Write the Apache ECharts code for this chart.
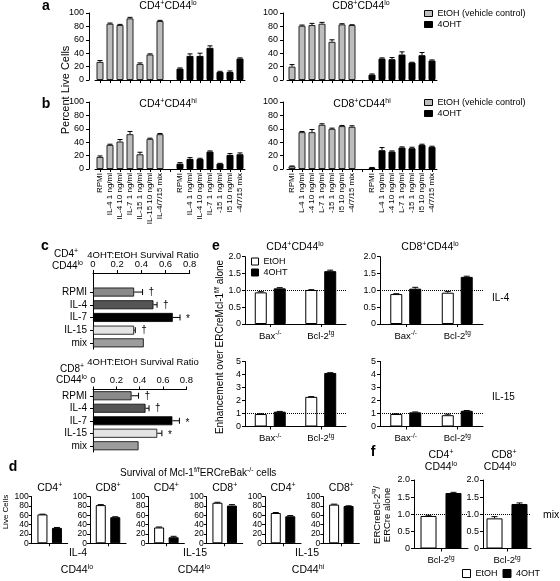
<!DOCTYPE html>
<html><head><meta charset="utf-8">
<script src="https://cdn.jsdelivr.net/npm/echarts@6/dist/echarts.min.js"></script>
<style>html,body{margin:0;padding:0;background:#fff}#c{width:560px;height:581px}</style>
</head><body><div id="c"></div><script>
const FONT = '"Liberation Sans", Arial, sans-serif';

// ---------------- data ----------------
const abLeftCats = ['RPMI','IL-4 1 ng/ml','IL-4 10 ng/ml','IL-7 1 ng/ml','IL-15 1 ng/ml','IL-15 10 ng/ml','IL-4/7/15 mix','',
  'RPMI','IL-4 1 ng/ml','IL-4 10 ng/ml','IL-7 1 ng/ml','-15 1 ng/ml','l5 10 ng/ml','-4/7/15 mix'];
const abRightCats = ['RPMI','L-4 1 ng/ml','-4 10 ng/ml','L-7 1 ng/ml','-15 1 ng/ml','l5 10 ng/ml','-4/7/15 mix','',
  'RPMI','L-4 1 ng/ml','-4 10 ng/ml','L-7 1 ng/ml','-15 1 ng/ml','I5 10 ng/ml','-4/7/15 mix'];
const aLeftEtOH = [27,84,82,92,24,38,88];
const aLeftEtOHErr = [2,1,1,1.5,1.5,1,1];
const aLeft4OHT = [17,36,36,48,12,12,32];
const aLeft4OHTErr = [1,3,4,3,1,1.5,1];
const aRightEtOH = [20,81,82,84,57,83,82];
const aRightEtOHErr = [3,1,2.5,2,3,1,0.5];
const aRight4OHT = [8,32,31,38,26,37,29];
const aRight4OHTErr = [1,1,2.5,4,0.5,4,1];
const bLeftEtOH = [18,36,41,52,22,45,52];
const bLeftEtOHErr = [1.5,1,3,4,3,1,1];
const bLeft4OHT = [8,15,15,26,8,21,22];
const bLeft4OHTErr = [1.5,2,1,1,0.5,2,2];
const bRightEtOH = [4,55,55,66,60,64,63];
const bRightEtOHErr = [0.5,1,4,1.5,1,1,1.5];
const bRight4OHT = [2,28,26,32,31,36,33];
const bRight4OHTErr = [0.3,4,1,1,1.5,1,1];

const cCategories = ['RPMI','IL-4','IL-7','IL-15','mix'];
const cCD4Ratio = [0.34,0.50,0.66,0.34,0.42];
const cCD4Err = [0.07,0.03,0.06,0.01,0];
const cCD4Marks = ['†','†','*','†',''];
const cCD8Ratio = [0.33,0.45,0.68,0.55,0.39];
const cCD8Err = [0.06,0.03,0.06,0.04,0];
const cCD8Marks = ['†','†','*','*',''];

const dTitles = ['CD4','CD8','CD4','CD8','CD4','CD8'];
const dEtOH = [62,82,34,87,65,83];
const dEtOHErr = [0.5,1,1,1,1,1];
const d4OHT = [33,56,13,81,58,80];
const d4OHTErr = [1,1,2,2,1.5,0.5];
const dCytokines = ['IL-4','IL-15','IL-15'];
const dSubsets = ['lo','lo','hi'];

const eCategories = ['Bax','Bcl-2'];
const eCategorySup = ['-/-','tg'];
const eIL4CD4EtOH = [0.94,1.01], eIL4CD4EtOHErr = [0.02,0.01];
const eIL4CD44OHT = [1.06,1.57], eIL4CD44OHTErr = [0.02,0.03];
const eIL4CD8EtOH = [0.89,0.93], eIL4CD8EtOHErr = [0.01,0.04];
const eIL4CD84OHT = [1.05,1.40], eIL4CD84OHTErr = [0.04,0.02];
const eIL15CD4EtOH = [0.96,2.28], eIL15CD4EtOHErr = [0.02,0.02];
const eIL15CD44OHT = [1.14,4.12], eIL15CD44OHTErr = [0.02,0.02];
const eIL15CD8EtOH = [0.96,0.87], eIL15CD8EtOHErr = [0.02,0.08];
const eIL15CD84OHT = [1.09,1.21], eIL15CD84OHTErr = [0.03,0.02];

const fCategories = ['Bcl-2'];
const fCategorySup = ['tg'];
const fCD4EtOH = [0.95], fCD4EtOHErr = [0.02];
const fCD44OHT = [1.62], fCD44OHTErr = [0.02];
const fCD8EtOH = [0.88], fCD8EtOHErr = [0.05];
const fCD84OHT = [1.30], fCD84OHTErr = [0.03];

// ---------------- styles / builders ----------------
const GREY = {color:'#bdbdbd', borderColor:'#222', borderWidth:1};
const BLACK = {color:'#000', borderColor:'#000', borderWidth:1};
const WHITE = {color:'#fff', borderColor:'#000', borderWidth:1};
const cColors = ['#8a8a8a','#555555','#000000','#e4e4e4','#9c9c9c'];

const grids = [], xAxes = [], yAxes = [], series = [], texts = [];
const lineBlack = {show:true, lineStyle:{color:'#000', width:1}};

function richFor(fs){
  return {
    m:{fontSize:fs, fontFamily:FONT, color:'#000', fill:'#000', lineHeight:fs+3},
    s:{fontSize:Math.max(6, Math.round(fs*0.68)), fontFamily:FONT, color:'#000', fill:'#000', verticalAlign:'top'}
  };
}
function sup(base, s){ return '{m|' + base + '}' + (s ? '{s|' + s + '}' : ''); }

function addVChart(cfg){
  const gi = grids.length;
  grids.push({left:cfg.left, top:cfg.top, width:cfg.width, height:cfg.height, outerBoundsMode:'none', containLabel:false});
  xAxes.push({gridIndex:gi, type:'category', data:cfg.cats, axisLine:lineBlack,
    axisTick:{show:true, alignWithLabel:true, interval:0, length:3, lineStyle:{color:'#000'}},
    axisLabel:cfg.xLabel || {show:false}, splitLine:{show:false}});
  const yl = {show:true, fontSize:cfg.yFont || 9, color:'#000', fontFamily:FONT, margin:cfg.yMargin || 4};
  if (cfg.yFmt) yl.formatter = cfg.yFmt;
  yAxes.push({gridIndex:gi, type:'value', min:cfg.min, max:cfg.max, interval:cfg.interval, offset:cfg.yOffset || 0,
    axisLine:lineBlack, axisTick:{show:true, length:3, lineStyle:{color:'#000'}}, axisLabel:yl, splitLine:{show:false}});
  return gi;
}
function addBars(gi, name, data, style, barWidth, barGap, extra){
  series.push(Object.assign({type:'bar', name, xAxisIndex:gi, yAxisIndex:gi, data, barWidth, barGap,
    itemStyle:style, silent:true, z:2}, extra || {}));
}
function addErrV(gi, vals, errs, start, offset, cap){
  const data = vals.map((v,i) => [start + i, v, errs[i]]);
  series.push({type:'custom', xAxisIndex:gi, yAxisIndex:gi, silent:true, z:5, encode:{x:0, y:1}, data,
    renderItem:function(params, api){
      const c = api.value(0), v = api.value(1), e = api.value(2);
      const b = api.coord([c, v]), t = api.coord([c, v + e]);
      const x = b[0] + offset;
      return {type:'group', children:[
        {type:'line', shape:{x1:x, y1:b[1], x2:x, y2:t[1]}, style:{stroke:'#000', lineWidth:1}},
        {type:'line', shape:{x1:x - cap, y1:t[1], x2:x + cap, y2:t[1]}, style:{stroke:'#000', lineWidth:1}}
      ]};
    }});
}
function pad(vals, start){ const o = new Array(15).fill('-'); vals.forEach((v,i) => o[start+i] = v); return o; }

// ---------- panels a & b ----------
function abPanel(left, top, yOffset, cats, ev, ee, bv, be, showLabels){
  const gi = addVChart({left, top, width:150, height:67, cats, min:0, max:100, interval:20, yOffset, yMargin:5,
    xLabel: showLabels ? {show:true, rotate:90, interval:0, fontSize:8, margin:4, color:'#000', fontFamily:FONT} : {show:false}});
  addBars(gi, 'EtOH (vehicle control)', pad(ev, 0), GREY, 7, '-100%');
  addBars(gi, '4OHT', pad(bv, 8), BLACK, 7, '-100%');
  addErrV(gi, ev, ee, 0, 0, 2.5);
  addErrV(gi, bv, be, 8, 0, 2.5);
}
abPanel(95, 13, 6, abLeftCats, aLeftEtOH, aLeftEtOHErr, aLeft4OHT, aLeft4OHTErr, false);
abPanel(287, 13, 4, abRightCats, aRightEtOH, aRightEtOHErr, aRight4OHT, aRight4OHTErr, false);
abPanel(95, 102, 6, abLeftCats, bLeftEtOH, bLeftEtOHErr, bLeft4OHT, bLeft4OHTErr, true);
abPanel(287, 102, 4, abRightCats, bRightEtOH, bRightEtOHErr, bRight4OHT, bRight4OHTErr, true);

// ---------- panel c ----------
function cPanel(left, top, width, slot, blankTop, vals, errs, marks){
  const gi = grids.length;
  const cats = blankTop ? [''].concat(cCategories) : cCategories.slice();
  const sh = blankTop ? 1 : 0;
  grids.push({left, top, width, height:slot * cats.length, outerBoundsMode:'none', containLabel:false});
  xAxes.push({gridIndex:gi, type:'value', position:'top', min:0, max:0.8, interval:0.2, axisLine:lineBlack,
    axisTick:{show:true, length:3, lineStyle:{color:'#000'}},
    axisLabel:{show:true, fontSize:9.5, color:'#000', fontFamily:FONT, margin:4, formatter:v => v === 0 ? '0' : v.toFixed(1)},
    splitLine:{show:false}});
  yAxes.push({gridIndex:gi, type:'category', data:cats, inverse:true, axisLine:lineBlack,
    axisTick:{show:true, alignWithLabel:true, length:3, lineStyle:{color:'#000'}, interval:(i) => i >= sh},
    axisLabel:{show:true, fontSize:10, color:'#000', fontFamily:FONT, margin:6, interval:0}, splitLine:{show:false}});
  const data = cats.map((c,i) => i < sh ? '-' : {value:vals[i-sh], itemStyle:{color:cColors[i-sh], borderColor:'#000', borderWidth:0.8}});
  series.push({type:'bar', xAxisIndex:gi, yAxisIndex:gi, data, barWidth:9, silent:true, z:2});
  const ed = vals.map((v,i) => [v, i + sh, errs[i]]);
  series.push({type:'custom', xAxisIndex:gi, yAxisIndex:gi, silent:true, z:5, encode:{x:0, y:1}, data:ed,
    renderItem:function(params, api){
      const v = api.value(0), c = api.value(1), e = api.value(2);
      const p0 = api.coord([v, c]), p1 = api.coord([v + e, c]);
      const ch = [];
      if (e > 0) {
        ch.push({type:'line', shape:{x1:p0[0], y1:p0[1], x2:p1[0], y2:p1[1]}, style:{stroke:'#000', lineWidth:1}});
        ch.push({type:'line', shape:{x1:p1[0], y1:p1[1]-3, x2:p1[0], y2:p1[1]+3}, style:{stroke:'#000', lineWidth:1}});
      }
      const mk = marks[params.dataIndex];
      if (mk) ch.push({type:'text', style:{text:mk, x:p1[0] + 6, y:p1[1] + (mk === '*' ? 2 : 0), fill:'#000',
        font:'10px ' + FONT, textAlign:'left', align:'left', textVerticalAlign:'middle', verticalAlign:'middle'}});
      return {type:'group', children:ch};
    }});
}
cPanel(93, 273, 96.7, 12.7, true, cCD4Ratio, cCD4Err, cCD4Marks);
cPanel(93, 389.5, 93.4, 12.5, false, cCD8Ratio, cCD8Err, cCD8Marks);

// ---------- panel d ----------
for (let i = 0; i < 6; i++) {
  const left = 31.7 + i * 58.33;
  const gi = addVChart({left, top:496.7, width:36, height:46.6, cats:[''], min:0, max:100, interval:20, yFont:8.5, yMargin:3});
  addBars(gi, 'EtOH', [dEtOH[i]], WHITE, 10, '45%');
  addBars(gi, '4OHT', [d4OHT[i]], BLACK, 10, '45%');
  addErrV(gi, [dEtOH[i]], [dEtOHErr[i]], 0, -7.25, 3);
  addErrV(gi, [d4OHT[i]], [d4OHTErr[i]], 0, 7.25, 3);
  texts.push(txt(left + 18, 488, sup(dTitles[i], '+'), 10.5));
}

// ---------- panel e ----------
const richLabel = {m:{fontSize:9.5, fontFamily:FONT, color:'#000', lineHeight:12}, s:{fontSize:6.5, fontFamily:FONT, color:'#000', verticalAlign:'top'}};
const eXLabel = {show:true, interval:0, margin:6, formatter:(v, i) => '{m|' + v + '}{s|' + eCategorySup[i] + '}', rich:richLabel};
const fXLabel = {show:true, interval:0, margin:6, formatter:(v, i) => '{m|' + v + '}{s|' + fCategorySup[i] + '}', rich:richLabel};
const fmt1 = v => v === 0 ? '0' : v.toFixed(1);
const dotted = {silent:true, symbol:'none', label:{show:false}, lineStyle:{type:'dotted', color:'#000', width:1}, data:[{yAxis:1}]};
function ePanel(cfg, ev, ee, bv, be, xLabel, bw, gapPct, off, cap){
  const gi = addVChart(Object.assign({cats:cfg.cats, xLabel, yFont:9, yMargin:4}, cfg));
  addBars(gi, 'EtOH', ev, WHITE, bw, gapPct, {markLine:dotted});
  addBars(gi, '4OHT', bv, BLACK, bw, gapPct);
  addErrV(gi, ev, ee, 0, -off, cap);
  addErrV(gi, bv, be, 0, off, cap);
}
ePanel({left:245, top:256.7, width:101, height:67.3, cats:eCategories, min:0, max:2, interval:0.5, yFmt:fmt1},
  eIL4CD4EtOH, eIL4CD4EtOHErr, eIL4CD44OHT, eIL4CD44OHTErr, eXLabel, 12, '58%', 9.5, 3);
ePanel({left:380, top:256.7, width:103, height:67.3, cats:eCategories, min:0, max:2, interval:0.5, yFmt:fmt1},
  eIL4CD8EtOH, eIL4CD8EtOHErr, eIL4CD84OHT, eIL4CD84OHTErr, eXLabel, 12, '58%', 9.5, 3);
ePanel({left:245, top:361.5, width:101, height:65, cats:eCategories, min:0, max:5, interval:1},
  eIL15CD4EtOH, eIL15CD4EtOHErr, eIL15CD44OHT, eIL15CD44OHTErr, eXLabel, 12, '58%', 9.5, 3);
ePanel({left:380, top:361.5, width:103, height:65, cats:eCategories, min:0, max:5, interval:1},
  eIL15CD8EtOH, eIL15CD8EtOHErr, eIL15CD84OHT, eIL15CD84OHTErr, eXLabel, 12, '58%', 9.5, 3);

// ---------- panel f ----------
ePanel({left:414, top:480, width:54, height:68.5, cats:fCategories, min:0, max:2, interval:0.5, yFmt:fmt1},
  fCD4EtOH, fCD4EtOHErr, fCD44OHT, fCD44OHTErr, fXLabel, 16, '56%', 12.5, 3);
ePanel({left:483, top:480, width:48, height:68.5, cats:fCategories, min:0, max:2, interval:0.5, yFmt:fmt1},
  fCD8EtOH, fCD8EtOHErr, fCD84OHT, fCD84OHTErr, fXLabel, 16, '56%', 12.5, 3);

// ---------------- texts ----------------
function txt(x, y, text, fs, opts){
  opts = opts || {};
  const al = opts.align || 'center';
  return {type:'text', x, y, rotation:opts.rot || 0, silent:true, z:100,
    style:{text, rich:richFor(fs), font:(opts.bold ? 'bold ' : '') + fs + 'px ' + FONT, fill:'#000',
      textAlign:al, align:al, textVerticalAlign:'middle', verticalAlign:'middle'}};
}
const R90 = Math.PI / 2;
// panel letters
[['a',46,6],['b',46,104],['c',45,246],['d',13,467],['e',216,246],['f',373,452]].forEach(p => texts.push(txt(p[1], p[2], p[0], 14, {bold:true})));
// a/b
texts.push(txt(168, 6, sup('CD4','+') + sup('CD44','lo'), 10.5));
texts.push(txt(361, 6, sup('CD8','+') + sup('CD44','lo'), 10.5));
texts.push(txt(168, 104, sup('CD4','+') + sup('CD44','hi'), 10.5));
texts.push(txt(362, 104, sup('CD8','+') + sup('CD44','hi'), 10.5));
texts.push(txt(66, 90, 'Percent Live Cells', 11, {rot:R90}));
// c
texts.push(txt(143, 255, '4OHT:EtOH Survival Ratio', 9.5));
texts.push(txt(54, 254, sup('CD4','+'), 10, {align:'left'}));
texts.push(txt(52, 266, sup('CD44','lo'), 10, {align:'left'}));
texts.push(txt(143, 362, '4OHT:EtOH Survival Ratio', 9.5));
texts.push(txt(60, 369, sup('CD8','+'), 10, {align:'left'}));
texts.push(txt(56, 380, sup('CD44','lo'), 10, {align:'left'}));
// d
texts.push(txt(120, 473, sup('Survival of Mcl-1','f/f') + sup('ERCreBak','-/-') + '{m| cells}', 10, {align:'left'}));
texts.push(txt(6, 512, 'Live Cells', 8, {rot:R90}));
[[78,553],[195,553],[307,553]].forEach((p,i) => texts.push(txt(p[0], p[1], dCytokines[i], 10.5)));
[[77,570],[194,570],[308,570]].forEach((p,i) => texts.push(txt(p[0], p[1], sup('CD44', dSubsets[i]), 10.5)));
// e
texts.push(txt(295, 247, sup('CD4','+') + sup('CD44','lo'), 10.5));
texts.push(txt(430, 247, sup('CD8','+') + sup('CD44','lo'), 10.5));
texts.push(txt(492, 298, 'IL-4', 10, {align:'left'}));
texts.push(txt(492, 397, 'IL-15', 10, {align:'left'}));
texts.push(txt(220, 347, sup('Enhancement over ERCreMcl-1','f/f') + '{m| alone}', 10, {rot:R90}));
// f
texts.push(txt(441, 455, sup('CD4','+'), 10.5));
texts.push(txt(441, 467, sup('CD44','lo'), 10.5));
texts.push(txt(504, 455, sup('CD8','+'), 10.5));
texts.push(txt(500, 467, sup('CD44','lo'), 10.5));
texts.push(txt(543, 515, 'mix', 10.5, {align:'left'}));
texts.push(txt(377, 515, sup('ERCreBcl-2','tg') + '{m|/}', 9.5, {rot:R90}));
texts.push(txt(387, 515, 'ERCre alone', 9.5, {rot:R90}));

const legBase = {orient:'vertical', padding:0, icon:'rect', selectedMode:false, itemGap:2,
  itemStyle:{borderColor:'#000', borderWidth:1}, textStyle:{fontSize:9, fontFamily:FONT, color:'#000'}};
const option = {
  animation:false, backgroundColor:'#fff', textStyle:{fontFamily:FONT},
  grid:grids, xAxis:xAxes, yAxis:yAxes, series,
  legend:[
    Object.assign({}, legBase, {data:['EtOH (vehicle control)','4OHT'], left:424, top:9, itemWidth:8, itemHeight:6}),
    Object.assign({}, legBase, {data:['EtOH (vehicle control)','4OHT'], left:424, top:98, itemWidth:8, itemHeight:6}),
    Object.assign({}, legBase, {data:['EtOH','4OHT'], left:251, top:257, itemWidth:7, itemHeight:7}),
    Object.assign({}, legBase, {data:['EtOH','4OHT'], left:462, top:569, orient:'horizontal', itemWidth:8, itemHeight:8, itemGap:5})
  ],
  graphic:{elements:texts}
};
const chart = echarts.init(document.getElementById('c'), null, {renderer:'canvas', width:560, height:581});
chart.setOption(option);
</script></body></html>
